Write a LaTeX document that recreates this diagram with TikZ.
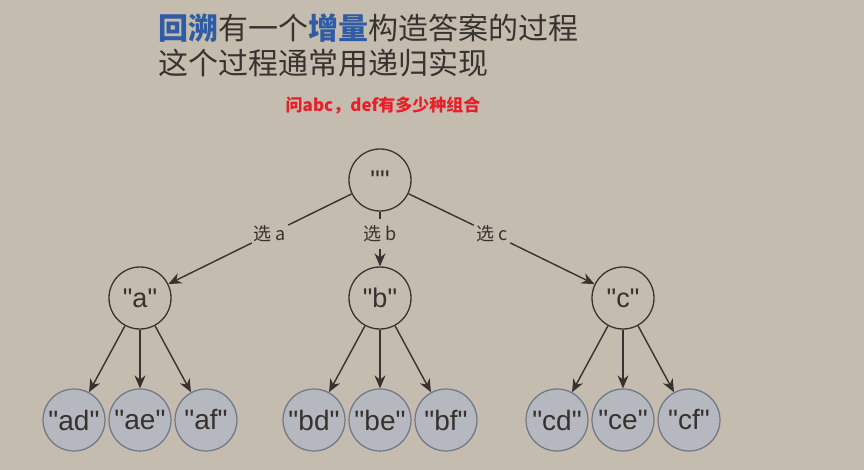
\documentclass[tikz,border=0pt]{standalone}
\usepackage{fontspec}
\setmainfont{Liberation Sans}
\newfontfamily\nodefont{Liberation Sans}[Ligatures=TeXOff]
\newfontfamily\cjk{Noto Sans CJK SC}
\usetikzlibrary{arrows.meta}
\definecolor{bg}{RGB}{196,189,175}
\definecolor{ink}{RGB}{55,50,46}
\definecolor{leaffill}{RGB}{181,184,190}
\definecolor{leafdraw}{RGB}{112,116,134}
\definecolor{titleblue}{RGB}{47,92,165}
\definecolor{titlegray}{RGB}{55,52,48}
\definecolor{qred}{RGB}{232,30,40}
\newcommand\qt[1]{"#1"}
\tikzset{
  inner/.style={circle,draw=ink,line width=1.3pt,minimum size=62pt,inner sep=0pt,font=\nodefont\fontsize{27}{29}\selectfont,text=ink},
  leaf/.style={circle,draw=leafdraw,fill=leaffill,line width=1.2pt,minimum size=62pt,inner sep=0pt,font=\nodefont\fontsize{28}{30}\selectfont,text=ink},
  elabel/.style={font=\cjk\fontsize{18}{20}\selectfont,text=ink,inner sep=0pt,minimum height=30pt,minimum width=36pt},
  conn/.style={draw=ink,line width=1.4pt},
  arr/.style={conn,-{Stealth[length=13pt,width=11pt]}}
}
\begin{document}
\begin{tikzpicture}[x=1pt,y=-1pt]
\fill[bg] (0,0) rectangle (864,470);
\useasboundingbox (0,0) rectangle (864,470);
% title
\node[anchor=west,inner sep=0pt,text=titlegray,font=\cjk\fontsize{30}{32}\selectfont] (t1) at (158,28)
  {{\bfseries\color{titleblue}回溯}有一个{\bfseries\color{titleblue}增量}构造答案的过程};
\node[anchor=west,inner sep=0pt,text=titlegray,font=\cjk\fontsize{30}{32}\selectfont] (t2) at (158,63)
  {这个过程通常用递归实现};
\node[inner sep=0pt,text=qred,font=\cjk\bfseries\fontsize{17}{19}\selectfont] (q) at (383,106)
  {问abc，def有多少种组合};
% nodes
\node[inner] (root) at (380,180) {\qt{}};
\node[inner] (a) at (140,298) {\qt{a}};
\node[inner] (b) at (380,298) {\qt{b}};
\node[inner] (c) at (623,298) {\qt{c}};
\node[leaf] (ad) at (74,420) {\qt{ad}};
\node[leaf] (ae) at (140,420) {\qt{ae}};
\node[leaf] (af) at (206,420) {\qt{af}};
\node[leaf] (bd) at (314,420) {\qt{bd}};
\node[leaf] (be) at (380,420) {\qt{be}};
\node[leaf] (bf) at (446,420) {\qt{bf}};
\node[leaf] (cd) at (557,420) {\qt{cd}};
\node[leaf] (ce) at (623,420) {\qt{ce}};
\node[leaf] (cf) at (689,420) {\qt{cf}};
% edge labels
\node[elabel] (la) at (270,234) {选 a};
\node[elabel] (lb) at (380,234) {选 b};
\node[elabel] (lc) at (492,234) {选 c};
% connectors
\draw[conn] (root) -- (la);
\draw[arr] (la) -- (a);
\draw[conn] (root) -- (lb);
\draw[arr] (lb) -- (b);
\draw[conn] (root) -- (lc);
\draw[arr] (lc) -- (c);
\foreach \p/\k in {a/ad,a/ae,a/af,b/bd,b/be,b/bf,c/cd,c/ce,c/cf}
  \draw[arr] (\p) -- (\k);
\end{tikzpicture}
\end{document}
